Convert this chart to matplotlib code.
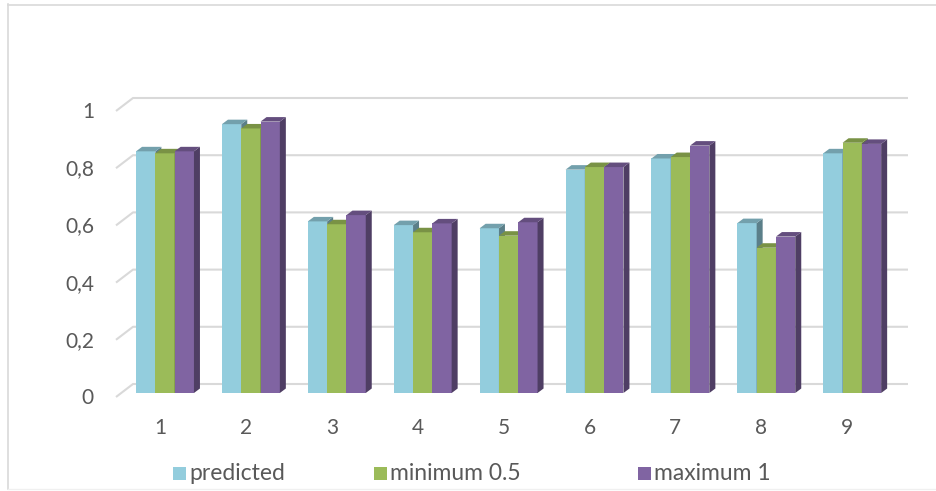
import matplotlib
matplotlib.use("Agg")
import matplotlib.pyplot as plt
from matplotlib.patches import Polygon, Rectangle
from matplotlib.lines import Line2D
from matplotlib.colors import to_rgb

# data
categories = ["1", "2", "3", "4", "5", "6", "7", "8", "9"]
series_names = ["predicted", "minimum 0.5", "maximum 1"]
predicted = [0.845, 0.940, 0.600, 0.587, 0.576, 0.781, 0.820, 0.594, 0.838]
minimum_05 = [0.838, 0.925, 0.590, 0.562, 0.550, 0.790, 0.825, 0.508, 0.875]
maximum_1 = [0.845, 0.949, 0.622, 0.593, 0.597, 0.790, 0.865, 0.547, 0.871]
y_ticks = [0, 0.2, 0.4, 0.6, 0.8, 1.0]
y_tick_labels = ["0", "0,2", "0,4", "0,6", "0,8", "1"]

colors = ["#93CDDD", "#9BBB59", "#8064A2"]

# canvas geometry (pixels)
W, H = 937, 491
X0_PX = 165.0      # centre of group 1 on the bar plane
CAT_PX = 85.9      # pixels per category
Y0_PX = 393.0      # value 0 on the bar plane
UNIT_PX = 286.0    # pixels per value unit

def dx(px):
    return px / CAT_PX

def dy(px):
    return px / UNIT_PX

bar_w = dx(19.3)
depth = (dx(6), dy(4.5))          # bar side / top depth
back = (dx(12), dy(9))            # back wall relative to bar plane
front = (dx(-5), dy(-4))          # front floor edge relative to bar plane
left_edge = 1 + dx(116 - X0_PX) - front[0]
right_edge = 1 + dx(908 - X0_PX)

text_color = "#595959"
grid_color = "#D9D9D9"
plt.rcParams["font.family"] = ["Lato", "DejaVu Sans"]

fig = plt.figure(figsize=(W / 100, H / 100), dpi=100)
ax = fig.add_axes([0, 0, 1, 1])
ax.set_xlim(1 - dx(X0_PX), 1 + dx(W - X0_PX))
ax.set_ylim(dy(Y0_PX - H), dy(Y0_PX))
ax.axis("off")

def shade(c, f):
    r, g, b = to_rgb(c)
    return (r * f, g * f, b * f)

# back wall gridlines and the slanted floor ticks on the left
for v, lab in zip(y_ticks, y_tick_labels):
    ax.plot([left_edge + front[0], left_edge + back[0], right_edge],
            [v + front[1], v + back[1], v + back[1]],
            color=grid_color, lw=1.5, zorder=1, solid_capstyle="butt")
    ax.text(left_edge + front[0] - dx(22), v + front[1] - dy(1), lab,
            ha="right", va="center", fontsize=15, color=text_color)

# 3D-looking bars
all_series = [predicted, minimum_05, maximum_1]
z = 2
for i, cat in enumerate(categories):
    xc = i + 1
    for k, vals in enumerate(all_series):
        v = vals[i]
        x0 = xc + (k - 1.5) * bar_w
        x1 = x0 + bar_w
        c = colors[k]
        ax.add_patch(Rectangle((x0, 0), bar_w, v, facecolor=c,
                               edgecolor="none", zorder=z))
        ax.add_patch(Polygon([(x1, 0), (x1 + depth[0], depth[1]),
                              (x1 + depth[0], v + depth[1]), (x1, v)],
                             closed=True, facecolor=shade(c, 0.62),
                             edgecolor="none", zorder=z))
        ax.add_patch(Polygon([(x0, v), (x1, v), (x1 + depth[0], v + depth[1]),
                              (x0 + depth[0], v + depth[1])],
                             closed=True, facecolor=shade(c, 0.78),
                             edgecolor="none", zorder=z))
        z += 1
    ax.text(xc + front[0], dy(Y0_PX - 428), cat, ha="center", va="center",
            fontsize=15, color=text_color)

# legend along the bottom
def fx(px):
    return px / W

def fy(py):
    return 1 - py / H

legend_x = [173, 374, 638]
for k, name in enumerate(series_names):
    fig.patches.append(Rectangle((fx(legend_x[k]), fy(480)), fx(13), 13 / H,
                                 transform=fig.transFigure, facecolor=colors[k],
                                 edgecolor="none"))
    fig.text(fx(legend_x[k] + 16), fy(474), name, ha="left", va="center",
             fontsize=16.5, color=text_color)

# chart frame: left and top edges, very faint bottom edge
fig.lines.append(Line2D([fx(8), fx(8)], [fy(4), fy(489)],
                        transform=fig.transFigure, color=grid_color, lw=1.2))
fig.lines.append(Line2D([fx(8), fx(W)], [fy(4.5), fy(4.5)],
                        transform=fig.transFigure, color=grid_color, lw=1.2))
fig.lines.append(Line2D([fx(8), fx(W)], [fy(489), fy(489)],
                        transform=fig.transFigure, color="#F0F0F0", lw=1.0))

fig.savefig("out.png", dpi=100)
